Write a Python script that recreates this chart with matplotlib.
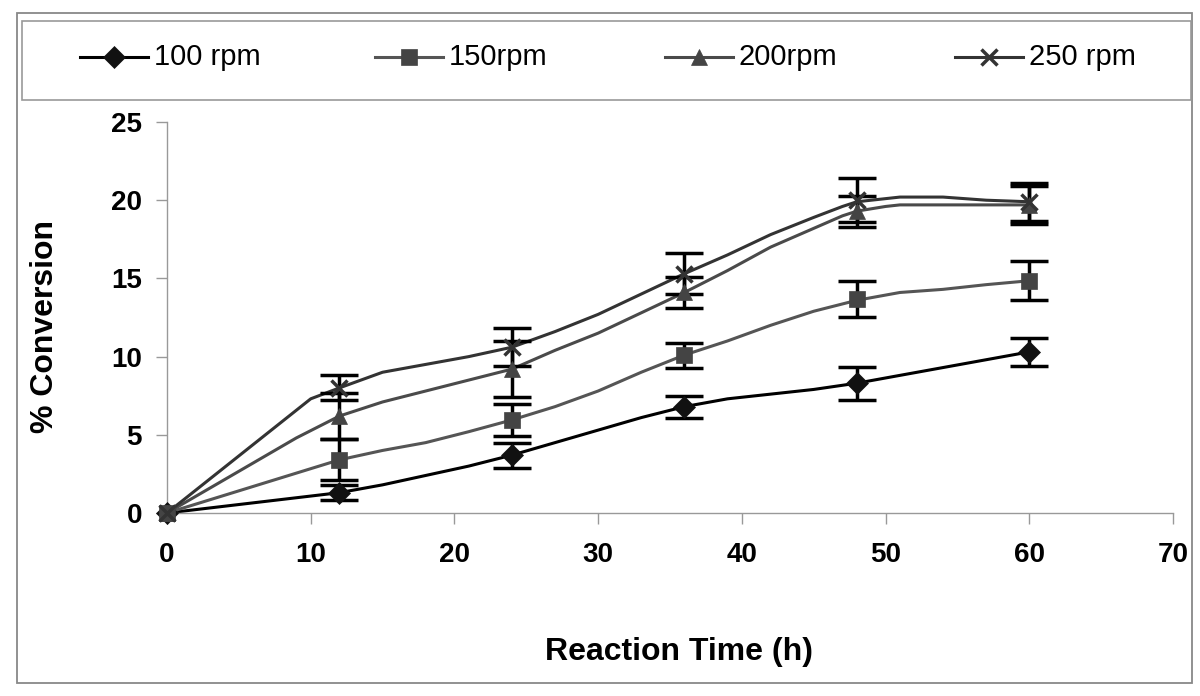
import matplotlib
matplotlib.use("Agg")
import matplotlib.pyplot as plt
from matplotlib.lines import Line2D
from matplotlib.patches import Rectangle

plt.rcParams['font.family'] = ['Liberation Sans', 'DejaVu Sans']

# measured time points (markers + error bars)
t_meas = [0, 12, 24, 36, 48, 60]
labels = ['100 rpm', '150rpm', '200rpm', '250 rpm']

y100 = [0, 1.3, 3.7, 6.8, 8.3, 10.3]
y150 = [0, 3.4, 5.95, 10.1, 13.7, 14.85]
y200 = [0, 6.2, 9.2, 14.1, 19.3, 19.7]
y250 = [0, 8.0, 10.6, 15.3, 20.0, 19.9]

e100 = [0, 0.5, 0.8, 0.7, 1.05, 0.9]
e150 = [0, 1.3, 1.05, 0.8, 1.15, 1.25]
e200 = [0, 1.5, 1.8, 1.0, 1.0, 1.2]
e250 = [0, 0.8, 1.2, 1.3, 1.4, 1.2]

# connecting line vertices
lx100 = [0, 12, 15, 18, 21, 24, 27, 30, 33, 36, 39, 42, 45, 48, 51, 54, 57, 60]
ly100 = [0, 1.3, 1.8, 2.4, 3.0, 3.7, 4.5, 5.3, 6.1, 6.8, 7.3, 7.6, 7.9, 8.3, 8.8, 9.3, 9.8, 10.3]
lx150 = [0, 12, 15, 18, 21, 24, 27, 30, 33, 36, 39, 42, 45, 48, 51, 54, 57, 60]
ly150 = [0, 3.4, 4.0, 4.5, 5.2, 5.95, 6.8, 7.8, 9.0, 10.1, 11.0, 12.0, 12.9, 13.6, 14.1, 14.3, 14.6, 14.85]
lx200 = [0, 9, 12, 15, 18, 21, 24, 27, 30, 33, 36, 39, 42, 45, 47, 48, 50, 51, 54, 57, 60]
ly200 = [0, 4.8, 6.2, 7.1, 7.8, 8.5, 9.2, 10.4, 11.5, 12.8, 14.1, 15.5, 17.0, 18.2, 19.0, 19.3, 19.6, 19.7, 19.7, 19.7, 19.7]
lx250 = [0, 10, 12, 15, 18, 21, 24, 27, 30, 33, 36, 39, 42, 45, 47, 48, 51, 54, 57, 60]
ly250 = [0, 7.3, 8.0, 9.0, 9.5, 10.0, 10.6, 11.6, 12.7, 14.0, 15.3, 16.5, 17.8, 18.9, 19.6, 19.9, 20.2, 20.2, 20.0, 19.9]

x_ticks = [0, 10, 20, 30, 40, 50, 60, 70]
y_ticks = [0, 5, 10, 15, 20, 25]

fig = plt.figure(figsize=(12, 6.96), dpi=100)
ax = fig.add_axes([167/1200, 1-513/696, (1173-167)/1200, (513-122)/696])

series = [
    (lx100, ly100, y100, e100, '#000000', 'D', '#111111', 11),
    (lx150, ly150, y150, e150, '#555555', 's', '#444444', 11),
    (lx200, ly200, y200, e200, '#4a4a4a', '^', '#444444', 12),
    (lx250, ly250, y250, e250, '#333333', 'x', '#333333', 12),
]

for lx, ly, ym, em, lc, mk, mc, ms in series:
    ax.plot(lx, ly, color=lc, lw=2.2, zorder=2, solid_joinstyle='round', clip_on=False)
    eb = ax.errorbar(t_meas[1:], ym[1:], yerr=em[1:], fmt='none', ecolor='black',
                     elinewidth=2.5, capsize=14, capthick=2.5, zorder=3)
    mew = 2.5 if mk == 'x' else 0.5
    ax.plot(t_meas, ym, linestyle='none', marker=mk, markersize=ms,
            color=mc, markeredgecolor=mc, markeredgewidth=mew, zorder=4, clip_on=False)

ax.set_xlim(0, 70)
ax.set_ylim(0, 25)
ax.set_xticks(x_ticks)
ax.set_yticks(y_ticks)
for s in ['top', 'right']:
    ax.spines[s].set_visible(False)
for s in ['left', 'bottom']:
    ax.spines[s].set_color('#999999')
    ax.spines[s].set_linewidth(1.0)
ax.tick_params(axis='both', colors='#999999', length=8, width=1, direction='out')
ax.tick_params(axis='x', labelcolor='black', labelsize=20, pad=13)
ax.tick_params(axis='y', labelcolor='black', labelsize=20, pad=10)
for lab in ax.get_xticklabels() + ax.get_yticklabels():
    lab.set_fontweight('bold')

fig.text(679/1200, 1-652/696, 'Reaction Time (h)', ha='center', va='center',
         fontsize=23, fontweight='bold')
fig.text(45/1200, 1-(326)/696, '% Conversion', ha='center', va='center',
         fontsize=23, fontweight='bold', rotation=90)

# frames
fig.patches.append(Rectangle((17/1200, 1-683/696), (1192-17)/1200, (683-13)/696,
                             transform=fig.transFigure, fill=False,
                             edgecolor='#888888', lw=1.3))
fig.patches.append(Rectangle((22/1200, 1-100/696), (1191-22)/1200, (100-21)/696,
                             transform=fig.transFigure, fill=False,
                             edgecolor='#999999', lw=1.2))

# legend entries
leg_x = [80, 375, 665, 955]
leg_y = 1 - 57/696
for (lx, ly, ym, em, lc, mk, mc, ms), x0, lab in zip(series, leg_x, labels):
    x1 = x0 + 68
    xs = [x0/1200, (x0+x1)/2/1200, x1/1200]
    mew = 2.5 if mk == 'x' else 0.5
    fig.lines.append(Line2D(xs, [leg_y]*3, transform=fig.transFigure,
                            color=lc, lw=2.2, marker=mk, markevery=[1],
                            markersize=ms, markerfacecolor=mc,
                            markeredgecolor=mc, markeredgewidth=mew))
    fig.text((x1+6)/1200, leg_y, lab, ha='left', va='center', fontsize=21)

fig.savefig('out.png', dpi=100)
